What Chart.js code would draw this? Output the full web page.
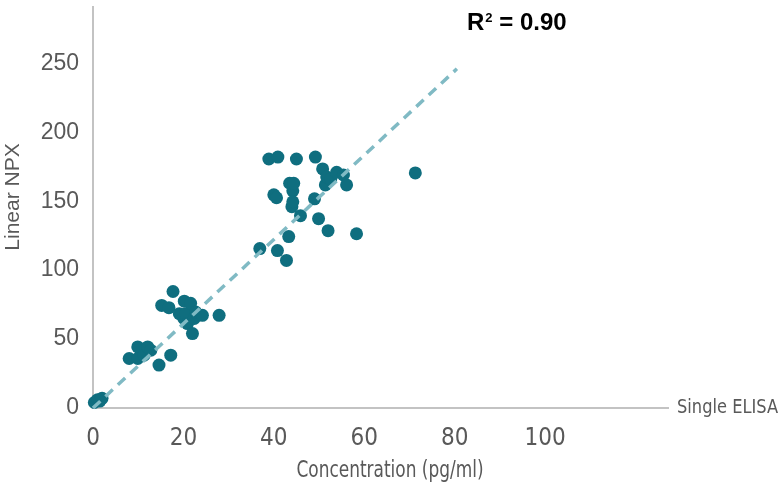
<!DOCTYPE html>
<html>
<head>
<meta charset="utf-8">
<script src="https://cdn.jsdelivr.net/npm/chart.js@4.4.1/dist/chart.umd.min.js"></script>
<style>
html,body{margin:0;padding:0;background:#fff;}
#wrap{width:782px;height:494px;position:relative;}
</style>
</head>
<body>
<div id="wrap"><canvas id="c" width="782" height="494"></canvas></div>
<script>
// Single ELISA concentration (pg/ml)
const elisaX = [
  0.3, 1.0, 1.5, 2.0,
  8.0, 9.9, 9.9, 11.3, 12.1, 12.8, 14.6, 17.2,
  15.2, 16.8, 17.7, 19.1, 20.1, 20.2, 20.5, 20.9, 21.6, 22.0, 22.4, 22.7, 24.2, 27.9,
  36.9, 38.9, 40.0, 40.6, 40.8, 40.9, 42.8, 43.3, 43.5, 44.0, 44.2, 44.2, 44.4, 45.0,
  45.9, 49.0, 49.2, 49.9, 50.8, 51.4, 51.7, 52.0, 52.6, 53.9, 55.4, 56.1, 58.3, 71.3
];
// Linear NPX
const npxY = [
  4, 6, 5, 7,
  35.9, 44.3, 35.9, 38.3, 44.3, 41.9, 31.1, 38.3,
  74.4, 72.8, 84.5, 68.4, 65.0, 77.5, 68.4, 61.2, 75.9, 54.0, 65.0, 69.6, 67.2, 67.2,
  115.6, 180.6, 154.6, 152.5, 114.2, 182.0, 107.0, 124.3, 163.0, 146.0, 157.5, 149.6, 163.0, 180.6,
  139.5, 151.7, 182.0, 137.3, 173.4, 161.8, 167.6, 128.6, 166.0, 171.0, 169.0, 161.8, 126.4, 170.5
];
// Trend line end points
const trendX = [0, 80.5];
const trendY = [0, 246];
const xTicks = [0, 20, 40, 60, 80, 100];
const yTicks = [0, 50, 100, 150, 200, 250];

const points = elisaX.map((x, i) => ({x: x, y: npxY[i]}));
const trend = trendX.map((x, i) => ({x: x, y: trendY[i]}));

const overlay = {
  id: 'overlay',
  afterDraw(chart) {
    const ctx = chart.ctx;
    const a = chart.chartArea;
    ctx.save();
    // y title
    ctx.fillStyle = '#595959';
    ctx.font = '21px "Liberation Sans", Arial, sans-serif';
    ctx.textAlign = 'center';
    ctx.textBaseline = 'middle';
    ctx.translate(13, 197);
    ctx.rotate(-Math.PI / 2);
    ctx.fillText('Linear NPX', 0, 0);
    ctx.restore();
    // x title (condensed by horizontal scaling)
    ctx.save();
    ctx.fillStyle = '#595959';
    ctx.font = '23px "Liberation Sans Narrow", "DejaVu Sans Condensed", sans-serif';
    ctx.textAlign = 'center';
    ctx.textBaseline = 'middle';
    ctx.translate(390, 471);
    ctx.scale(0.82, 1);
    ctx.fillText('Concentration (pg/ml)', 0, 0);
    ctx.restore();
    // axis end label
    ctx.save();
    ctx.fillStyle = '#595959';
    ctx.font = '20px "Liberation Sans Narrow", "DejaVu Sans Condensed", sans-serif';
    ctx.textAlign = 'left';
    ctx.textBaseline = 'middle';
    ctx.translate(a.right + 9, a.bottom);
    const w = ctx.measureText('Single ELISA').width;
    ctx.scale(Math.min(1, 101 / w), 1);
    ctx.fillText('Single ELISA', 0, 0);
    ctx.restore();
    // R^2
    ctx.save();
    ctx.fillStyle = '#000';
    ctx.textBaseline = 'alphabetic';
    ctx.font = 'bold 24px "Liberation Sans", Arial, sans-serif';
    let x = 467, y = 30;
    ctx.fillText('R', x, y);
    x += ctx.measureText('R').width + 1;
    ctx.font = 'bold 13px "Liberation Sans", Arial, sans-serif';
    ctx.fillText('2', x, y - 8);
    x += ctx.measureText('2').width;
    ctx.font = 'bold 24px "Liberation Sans", Arial, sans-serif';
    ctx.fillText(' = 0.90', x, y);
    ctx.restore();
  }
};

new Chart(document.getElementById('c'), {
  type: 'scatter',
  data: {
    datasets: [
      {
        type: 'line',
        data: trend,
        borderColor: '#80bac4',
        borderWidth: 3.5,
        borderDash: [10, 7],
        pointRadius: 0,
        fill: false,
        clip: false
      },
      {
        data: points,
        backgroundColor: '#0f6e7f',
        borderColor: '#0f6e7f',
        borderWidth: 0,
        pointRadius: 6.5,
        clip: false
      }
    ]
  },
  options: {
    responsive: false,
    animation: false,
    devicePixelRatio: 1,
    layout: {padding: {left: 0, right: 114, top: 5, bottom: 0}},
    plugins: {legend: {display: false}, tooltip: {enabled: false}},
    scales: {
      x: {
        type: 'linear',
        min: 0,
        max: 127.2,
        grid: {display: false, drawTicks: false},
        border: {display: true, color: '#c3c3c3', width: 2},
        afterBuildTicks: s => { s.ticks = xTicks.map(v => ({value: v})); },
        afterFit: s => { s.height = 86; s.paddingLeft = 0; s.paddingRight = 0; },
        ticks: {
          color: '#595959',
          padding: 16,
          maxRotation: 0,
          font: {family: '"Liberation Sans Narrow", "DejaVu Sans Condensed", sans-serif', size: 24}
        }
      },
      y: {
        type: 'linear',
        min: 0,
        max: 291.2,
        grid: {display: false, drawTicks: false},
        border: {display: true, color: '#c3c3c3', width: 2},
        afterBuildTicks: s => { s.ticks = yTicks.map(v => ({value: v})); },
        afterFit: s => { s.width = 93; s.paddingTop = 0; s.paddingBottom = 0; },
        ticks: {
          color: '#595959',
          padding: 14,
          font: {family: '"Liberation Sans", Arial, sans-serif', size: 23}
        }
      }
    }
  },
  plugins: [overlay]
});
</script>
</body>
</html>
